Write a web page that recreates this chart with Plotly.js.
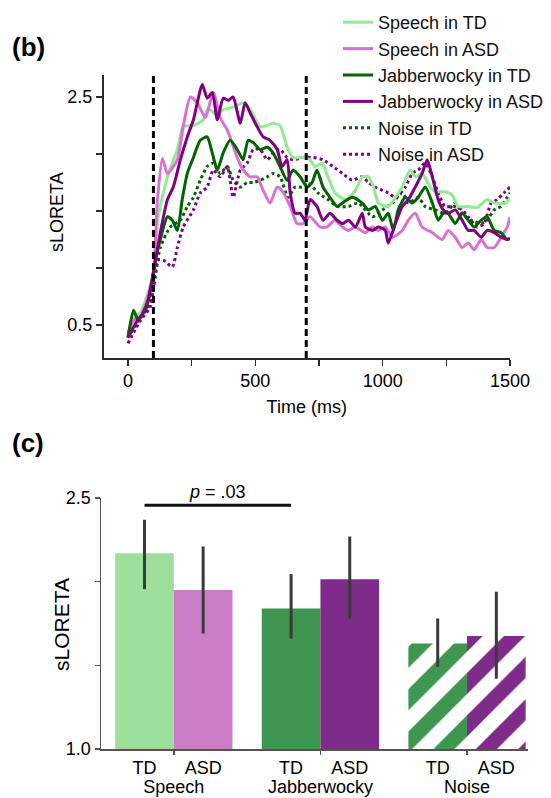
<!DOCTYPE html>
<html><head><meta charset="utf-8">
<script src="https://cdn.plot.ly/plotly-3.0.1.min.js"></script>
<style>html,body{margin:0;padding:0;background:#fff;} #chart{width:551px;height:798px;}</style>
</head><body><div id="chart"></div>
<script>
// ---------------- Panel (b): sLORETA time courses ----------------
const speechTD_t = [0,22,49,80,100,119,155,194,217,257,296,315,351,374,413,452,480,519,547,566,597,625,648,687,715,735,762,785,813,854,893,920,944,964,983,1022,1050,1077,1108,1128,1155,1187,1206,1245,1273,1296,1336,1371,1410,1438,1485,1500];
const speechTD_v = [0.39,0.56,0.61,0.79,0.96,1.45,1.80,2.04,2.24,2.25,2.30,2.40,2.34,2.39,2.41,2.45,2.39,2.24,2.25,2.27,2.25,2.06,1.97,1.97,1.95,1.89,1.92,1.80,1.66,1.60,1.68,1.80,1.80,1.71,1.57,1.54,1.62,1.71,1.86,1.80,1.83,1.71,1.67,1.67,1.64,1.54,1.54,1.53,1.60,1.57,1.57,1.62];

const speechASD_t = [0,22,49,80,100,116,135,155,194,217,245,272,304,335,362,390,429,452,480,507,531,558,586,611,637,664,687,715,754,781,813,842,866,893,932,960,983,1010,1038,1077,1101,1128,1155,1195,1234,1257,1285,1312,1336,1359,1387,1410,1438,1465,1489,1500];
const speechASD_v = [0.43,0.54,0.58,0.76,0.96,1.60,1.96,1.83,1.95,2.24,2.50,2.45,2.32,2.54,2.32,2.21,1.97,1.86,1.80,1.80,1.68,1.57,1.71,1.66,1.54,1.39,1.39,1.45,1.36,1.36,1.42,1.36,1.33,1.36,1.31,1.36,1.33,1.36,1.27,1.33,1.42,1.48,1.36,1.31,1.25,1.33,1.27,1.18,1.22,1.16,1.25,1.18,1.18,1.27,1.36,1.45];

const jabTD_t = [0,22,41,80,108,127,155,174,194,213,233,257,284,311,331,351,374,401,429,452,472,492,519,547,570,597,625,648,676,703,723,742,766,793,821,842,881,920,944,971,999,1022,1042,1061,1089,1116,1140,1167,1195,1218,1238,1257,1285,1312,1336,1359,1387,1410,1438,1465,1489,1500];
const jabTD_v = [0.39,0.63,0.54,0.72,1.07,1.25,1.45,1.42,1.33,1.60,1.83,1.97,2.12,2.15,2.01,1.86,2.01,2.12,2.04,1.95,2.12,2.10,2.04,2.06,2.01,1.89,1.77,1.86,1.80,1.71,1.75,1.86,1.71,1.62,1.54,1.57,1.62,1.57,1.51,1.54,1.42,1.48,1.33,1.51,1.62,1.57,1.62,1.71,1.57,1.42,1.48,1.48,1.39,1.48,1.42,1.36,1.42,1.45,1.33,1.31,1.25,1.26];

const jabASD_t = [0,37,69,100,127,155,178,206,233,257,292,311,331,351,374,394,413,441,460,480,507,531,558,586,605,625,637,656,676,695,715,742,766,793,821,842,866,893,920,932,960,983,1010,1022,1050,1077,1101,1128,1155,1175,1195,1218,1238,1257,1285,1312,1336,1359,1387,1410,1438,1465,1489,1500];
const jabASD_v = [0.39,0.54,0.63,0.96,1.31,1.60,1.71,1.95,2.15,2.30,2.61,2.49,2.54,2.30,2.49,2.47,2.50,2.27,2.45,2.36,2.24,2.15,2.12,2.04,1.89,1.95,1.66,1.48,1.48,1.42,1.60,1.54,1.42,1.48,1.42,1.39,1.42,1.36,1.48,1.36,1.33,1.36,1.33,1.22,1.39,1.54,1.60,1.71,1.83,1.95,1.80,1.60,1.51,1.48,1.51,1.42,1.33,1.33,1.27,1.33,1.31,1.27,1.25,1.26];

const noiseTD_t = [0,49,88,127,166,206,233,257,284,311,335,362,390,413,441,468,492,519,547,570,597,629,656,684,707,746,785,825,866,905,960,999,1038,1077,1101,1140,1167,1206,1245,1285,1312,1347,1387,1410,1438,1465,1489,1500];
const noiseTD_v = [0.39,0.56,0.69,1.18,1.36,1.42,1.54,1.62,1.77,1.89,1.92,1.83,1.89,1.77,1.71,1.75,1.75,1.77,1.80,1.83,1.80,1.62,1.71,1.71,1.75,1.66,1.60,1.54,1.54,1.57,1.45,1.51,1.57,1.66,1.57,1.62,1.54,1.51,1.48,1.57,1.48,1.42,1.39,1.42,1.51,1.54,1.62,1.66];

const noiseASD_t = [0,49,88,116,139,174,194,217,257,284,311,335,362,390,413,441,468,492,519,547,570,597,625,648,687,727,766,805,842,881,920,944,971,999,1022,1050,1089,1116,1140,1167,1195,1218,1245,1285,1312,1336,1371,1398,1426,1449,1477,1500];
const noiseASD_v = [0.34,0.54,0.66,1.07,1.07,1.01,1.18,1.36,1.51,1.66,1.71,1.86,1.80,1.89,1.62,1.86,1.92,2.04,2.04,1.95,2.01,2.04,1.97,1.95,1.97,1.97,1.95,1.89,1.83,1.77,1.80,1.75,1.71,1.68,1.66,1.62,1.71,1.83,1.86,1.92,1.80,1.66,1.54,1.54,1.51,1.45,1.36,1.39,1.57,1.60,1.66,1.71];

const seriesNames = ['Speech in TD','Speech in ASD','Jabberwocky in TD','Jabberwocky in ASD','Noise in TD','Noise in ASD'];
const windowMarkers = [100, 700];          // ms
const timeTicks = [0,250,500,750,1000,1250,1500];
const timeTickLabels = ['0','','500','','1000','','1500'];
const topYTicks = [0.5,1.0,1.5,2.0,2.5];
const topYTickLabels = ['0.5','','','','2.5'];

// ---------------- Panel (c): mean sLORETA per condition ----------------
const conditions = ['Speech','Jabberwocky','Noise'];
const groupsDx = ['TD','ASD'];
const meanTD  = [2.17, 1.84, 1.63];
const meanASD = [1.95, 2.015, 1.675];
const errUpTD  = [0.20, 0.205, 0.15];
const errDnTD  = [0.215, 0.18, 0.14];
const errUpASD = [0.26, 0.255, 0.265];
const errDnASD = [0.26, 0.235, 0.255];
const botYTicks = [1.0,1.5,2.0,2.5];
const botYTickLabels = ['1.0','','','2.5'];
const sigPair = [[0,0],[1,0]];   // [condition, group] : Speech TD vs Jabberwocky TD
const sigLevel = 2.457;
const sigText = '<i>p</i> = .03';
const yTitle = 'sLORETA';

// ---------------- styling ----------------
const FONT = 'Liberation Sans, Arial, Helvetica, sans-serif';
const seriesStyle = [
  {c:'#8fec8f', d:'solid'}, {c:'#da70d6', d:'solid'},
  {c:'#006400', d:'solid'}, {c:'#800080', d:'solid'},
  {c:'#006400', d:'dot'},   {c:'#800080', d:'dot'}
];
const seriesData = [[speechTD_t,speechTD_v],[speechASD_t,speechASD_v],[jabTD_t,jabTD_v],[jabASD_t,jabASD_v],[noiseTD_t,noiseTD_v],[noiseASD_t,noiseASD_v]];
const drawOrder = [4,5,0,1,2,3];

const traces = [];
drawOrder.forEach(i => {
  traces.push({
    type:'scatter', mode:'lines', name: seriesNames[i],
    x: seriesData[i][0], y: seriesData[i][1],
    xaxis:'x', yaxis:'y', legendrank: i+1,
    line:{color:seriesStyle[i].c, width:3, dash:seriesStyle[i].d, shape:'spline', smoothing:0.6},
    hoverinfo:'skip'
  });
});

const barColor = [['#9de09b','#cc7dc8'],['#3e9650','#7e2b8a'],['#3e9650','#7e2b8a']];
const hatched = [false,false,true];
const barPos = (ci, gi) => ci*2.5 + gi;
const means = [meanTD, meanASD], ups = [errUpTD, errUpASD], dns = [errDnTD, errDnASD];
conditions.forEach((cond, ci) => {
  groupsDx.forEach((g, gi) => {
    const marker = {color: barColor[ci][gi], line:{width:0}};
    if (hatched[ci]) marker.pattern = {shape:'/', fgcolor: barColor[ci][gi], bgcolor:'#ffffff', size:30, solidity:0.5, fillmode:'replace'};
    traces.push({
      type:'bar', x:[barPos(ci,gi)], y:[means[gi][ci]], width:1,
      xaxis:'x2', yaxis:'y2', showlegend:false, marker: marker,
      error_y:{type:'data', symmetric:false, array:[ups[gi][ci]], arrayminus:[dns[gi][ci]], color:'#3a3a3a', thickness:3, width:0},
      hoverinfo:'skip'
    });
  });
});
// invisible helper traces so the overlaid label/tick axes exist
['x3','x4'].forEach(ax => traces.push({type:'scatter', x:[barPos(0,0)], y:[1.0], xaxis:ax, yaxis:'y2', mode:'markers', marker:{opacity:0}, showlegend:false, hoverinfo:'skip'}));

const barTickVals = [], barTickText = [];
conditions.forEach((c, ci) => groupsDx.forEach((g, gi) => { barTickVals.push(barPos(ci,gi)); barTickText.push(g); }));
const groupTickVals = conditions.map((c, ci) => (barPos(ci,0)+barPos(ci,1))/2);
const groupTickText = conditions.map(c => '<br>' + c);

const W = 551, H = 798;
const px = v => v / W, py = v => 1 - v / H;
const topAxisColor = '#2a2a2a', botAxisColor = '#5e5050';
const botX = {domain:[px(101), px(528)], anchor:'y2', range:[-0.742,6.54], showgrid:false, zeroline:false};

const layout = {
  width: W, height: H, autosize:false,
  margin:{l:0,r:0,t:0,b:0},
  paper_bgcolor:'#ffffff', plot_bgcolor:'rgba(0,0,0,0)',
  font:{family:FONT, size:18, color:'#000'},
  barmode:'overlay',
  showlegend:true,
  legend:{x:px(338), y:py(4), xanchor:'left', yanchor:'top', font:{size:18, family:FONT, color:'#111'}, bgcolor:'rgba(0,0,0,0)', itemwidth:30},
  xaxis:{domain:[px(103.5), px(510)], anchor:'y', range:[-96,1500], showgrid:false, zeroline:false,
         showline:true, linecolor:topAxisColor, linewidth:1.5, ticks:'outside', ticklen:6, tickwidth:1.5, tickcolor:topAxisColor,
         tickvals:timeTicks, ticktext:timeTickLabels, tickfont:{size:18},
         title:{text:'Time (ms)', font:{size:18}, standoff:10}},
  yaxis:{domain:[py(358), py(75)], anchor:'x', range:[0.211,2.693], showgrid:false, zeroline:false,
         showline:true, linecolor:topAxisColor, linewidth:1.5, ticks:'outside', ticklen:6, tickwidth:1.5, tickcolor:topAxisColor,
         tickvals:topYTicks, ticktext:topYTickLabels, tickfont:{size:18}},
  xaxis2:Object.assign({}, botX, {showline:true, linecolor:botAxisColor, linewidth:1.5, ticks:'', ticklabelstandoff:2,
          tickvals:barTickVals, ticktext:barTickText, tickfont:{size:18}}),
  xaxis3:Object.assign({}, botX, {overlaying:'x2', showline:false, ticks:'', ticklabelstandoff:2,
          tickvals:groupTickVals, ticktext:groupTickText, tickfont:{size:18}}),
  xaxis4:Object.assign({}, botX, {overlaying:'x2', showline:false, ticks:'outside', ticklen:5, tickwidth:1.5, tickcolor:botAxisColor,
          tickvals:groupTickVals, showticklabels:false}),
  yaxis2:{domain:[py(749), py(498)], anchor:'x2', range:[1.0,2.5], showgrid:false, zeroline:false,
          showline:true, linecolor:botAxisColor, linewidth:1.5, ticks:'outside', ticklen:5, tickwidth:1.5, tickcolor:botAxisColor,
          tickvals:botYTicks, ticktext:botYTickLabels, tickfont:{size:18}},
  shapes: windowMarkers.map(t => ({type:'line', xref:'x', yref:'y domain', x0:t, x1:t, y0:0, y1:1,
            line:{color:'#000', width:3, dash:'7px,4px'}})).concat([
          {type:'line', xref:'x2', yref:'y2', x0:barPos(sigPair[0][0],sigPair[0][1]), x1:barPos(sigPair[1][0],sigPair[1][1]),
           y0:sigLevel, y1:sigLevel, line:{color:'#111', width:3}}]),
  annotations:[
    {text:'<b>(b)</b>', xref:'paper', yref:'paper', x:px(10), y:py(47), xanchor:'left', yanchor:'middle', showarrow:false, font:{size:26, color:'#000'}},
    {text:'<b>(c)</b>', xref:'paper', yref:'paper', x:px(10), y:py(443), xanchor:'left', yanchor:'middle', showarrow:false, font:{size:26, color:'#000'}},
    {text:yTitle, xref:'paper', yref:'y domain', x:px(57), y:(358-212)/(358-75), xanchor:'center', yanchor:'middle', textangle:-90, showarrow:false, font:{size:18, color:'#000'}},
    {text:yTitle, xref:'paper', yref:'y2 domain', x:px(61), y:(749-625)/(749-498), xanchor:'center', yanchor:'middle', textangle:-90, showarrow:false, font:{size:21, color:'#000'}},
    {text:sigText, xref:'x2', yref:'y2', x:(barPos(sigPair[0][0],sigPair[0][1])+barPos(sigPair[1][0],sigPair[1][1]))/2, y:sigLevel,
     xanchor:'center', yanchor:'bottom', yshift:1, showarrow:false, font:{size:18, color:'#000'}}
  ]
};

Plotly.newPlot('chart', traces, layout, {displayModeBar:false, staticPlot:true});
</script>
</body></html>
